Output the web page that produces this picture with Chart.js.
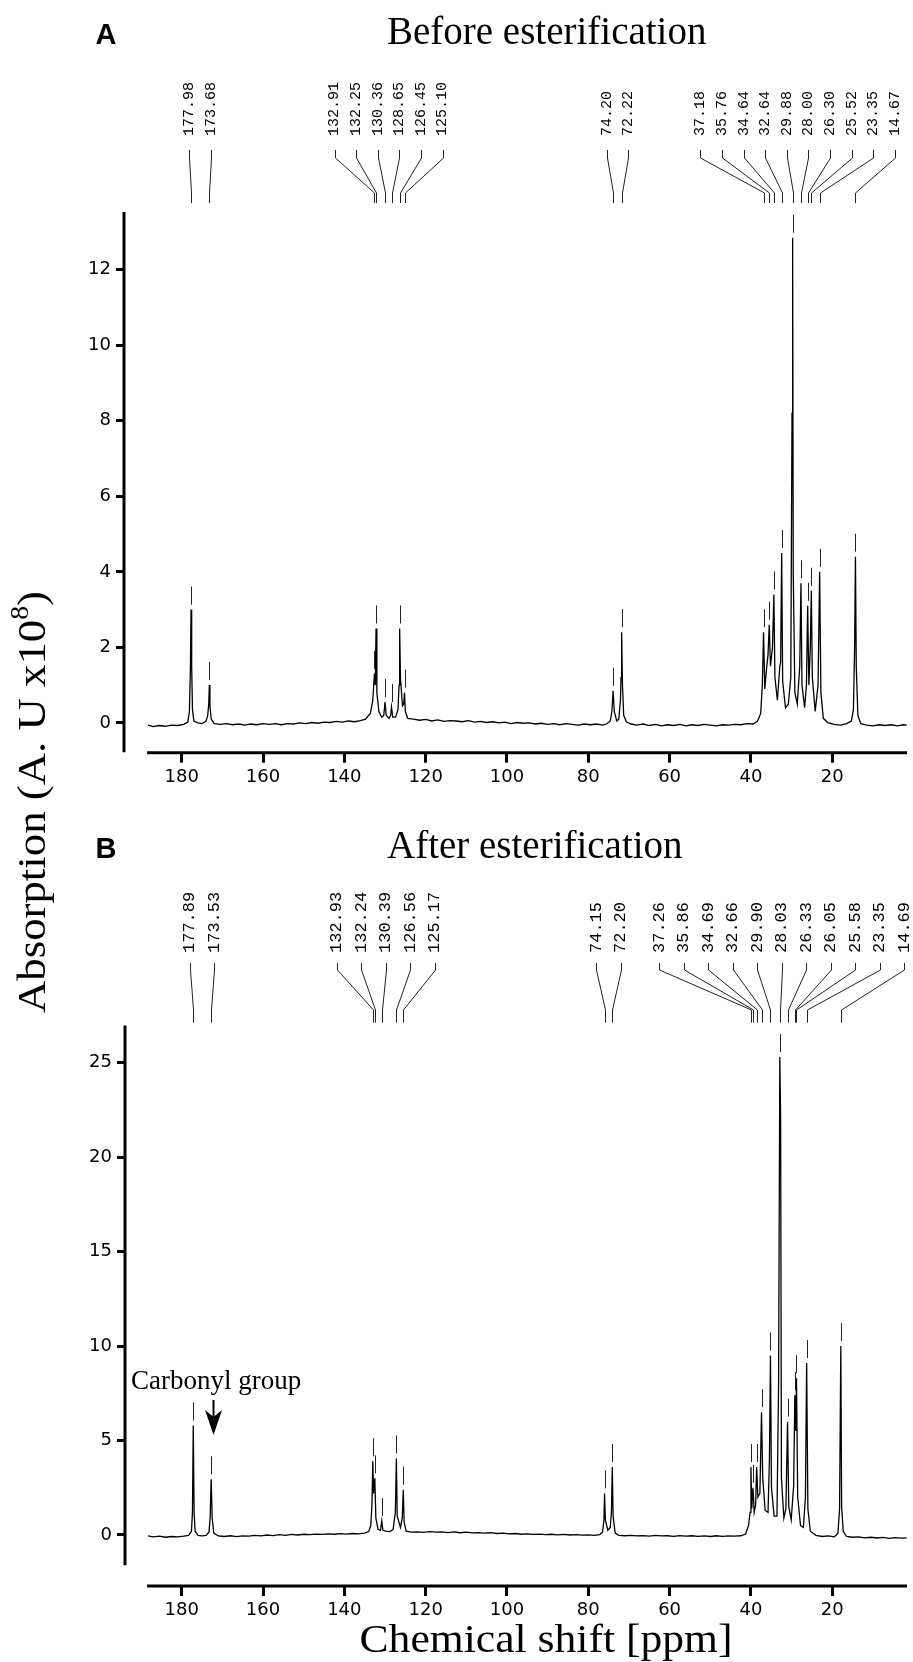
<!DOCTYPE html>
<html>
<head>
<meta charset="utf-8">
<script src="https://cdn.jsdelivr.net/npm/chart.js@4/dist/chart.umd.min.js"></script>
<style>
  body { margin: 0; background: #fff; }
  #wrap { position: relative; width: 913px; height: 1662px; background: #fff; overflow: hidden; }
  canvas { position: absolute; left: 0; }
  #ytitle {
    position: absolute; left: -218px; top: 778px; width: 500px; text-align: center;
    font: 40px 'Liberation Serif', 'Times New Roman', serif; line-height: 48px;
    transform: rotate(-90deg) scaleX(1.12); white-space: nowrap;
  }
  #ytitle sup { font-size: 0.62em; vertical-align: 0.7em; line-height: 0; }
</style>
</head>
<body>
<div id="wrap">
  <canvas id="chartA" width="913" height="830" style="top:0"></canvas>
  <canvas id="chartB" width="913" height="832" style="top:830px"></canvas>
  <div id="ytitle">Absorption (A. U x10<sup>8</sup>)</div>
</div>
<script>
// axis ticks
const xTicks = [180, 160, 140, 120, 100, 80, 60, 40, 20];
const yTicksA = [0, 2, 4, 6, 8, 10, 12];
const yTicksB = [0, 5, 10, 15, 20, 25];

// --- A: before esterification (ppm / absorption) ---
const shiftA = [
  188.3, 187.0, 185.5, 184.0, 182.5, 181.0, 179.5, 178.5,
  178.1, 177.85, 177.7, 177.55, 177.35, 177.0, 176.0, 175.0,
  174.0, 173.6, 173.35, 173.2, 173.05, 172.75, 172.0, 170.5,
  169.0, 167.5, 166.0, 164.5, 163.0, 161.5, 160.0, 158.5,
  157.0, 155.5, 154.0, 152.5, 151.0, 149.5, 148.0, 146.5,
  145.0, 143.5, 142.0, 140.5, 139.0, 137.5, 136.0, 134.8,
  133.6, 133.0, 132.6, 132.4, 132.2, 132.0, 131.5, 130.8,
  130.3, 130.0, 129.7, 129.0, 128.6, 128.4, 128.1, 127.4,
  126.8, 126.55, 126.4, 126.2, 125.7, 125.4, 125.2, 125.0,
  124.4, 123.0, 121.5, 120.0, 118.5, 117.0, 115.5, 114.0,
  112.5, 111.0, 109.5, 108.0, 106.5, 105.0, 103.5, 102.0,
  100.5, 99.0, 97.5, 96.0, 94.5, 93.0, 91.5, 90.0,
  88.5, 87.0, 85.5, 84.0, 82.5, 81.0, 79.5, 78.0,
  76.5, 75.5, 74.6, 74.2, 73.9, 73.6, 73.0, 72.5,
  72.1, 71.95, 71.8, 71.6, 71.3, 70.6, 69.5, 68.0,
  66.5, 65.0, 63.5, 62.0, 60.5, 59.0, 57.5, 56.0,
  54.5, 53.0, 51.5, 50.0, 48.5, 47.0, 45.5, 44.0,
  42.5, 41.0, 39.5, 38.4, 37.6, 37.2, 36.9, 36.6,
  36.1, 35.8, 35.5, 35.2, 34.7, 34.36, 34.1, 33.5,
  32.9, 32.7, 32.44, 32.2, 31.5, 30.8, 30.2, 29.9,
  29.75, 29.6, 29.2, 28.6, 28.0, 27.7, 27.45, 26.8,
  26.35, 26.05, 25.75, 25.4, 25.15, 24.9, 24.2, 23.5,
  23.1, 22.8, 22.2, 21.0, 19.5, 18.0, 16.5, 15.3,
  14.8, 14.5, 14.3, 14.1, 13.7, 13.0, 11.5, 10.0,
  8.5, 7.0, 5.5, 4.0, 2.5, 1.7
];
const absA = [
  -0.06, -0.1, -0.07, -0.09, -0.06, -0.07, -0.04, 0.02,
  0.3, 1.5, 3.0, 1.5, 0.35, 0.05, 0.0, -0.02,
  0.05, 0.2, 0.5, 1.0, 0.45, 0.1, -0.02, -0.04,
  -0.02, -0.05, -0.03, -0.06, -0.03, -0.05, -0.02, -0.04,
  -0.02, -0.05, -0.02, -0.03, 0.0, -0.02, 0.01, -0.01,
  0.02, 0.01, 0.04, 0.02, 0.05, 0.03, 0.06, 0.1,
  0.25, 0.6, 1.3, 1.0, 2.5, 0.8, 0.3, 0.15,
  0.2, 0.55, 0.2, 0.12, 0.2, 0.42, 0.15, 0.15,
  0.35, 1.0, 2.5, 1.2, 0.45, 0.5, 0.8, 0.3,
  0.12, 0.1, 0.07, 0.09, 0.05, 0.08, 0.04, 0.06,
  0.05, 0.03, 0.06, 0.02, 0.04, 0.01, 0.03, 0.0,
  0.02, -0.02, 0.01, -0.01, 0.0, -0.03, -0.01, -0.04,
  -0.02, -0.05, -0.02, -0.04, -0.06, -0.03, -0.05, -0.03,
  -0.06, -0.03, 0.05, 0.3, 0.85, 0.3, 0.05, 0.1,
  0.6, 1.2, 2.4, 1.0, 0.2, 0.02, -0.03, -0.06,
  -0.03, -0.07, -0.04, -0.08, -0.05, -0.07, -0.04, -0.08,
  -0.05, -0.07, -0.04, -0.06, -0.08, -0.05, -0.06, -0.04,
  -0.05, -0.02, -0.03, 0.04, 0.25, 1.0, 2.4, 0.9,
  1.5, 1.8, 2.6, 1.5, 2.0, 3.4, 1.2, 0.6,
  1.5, 1.6, 4.5, 1.1, 0.4, 0.5, 1.2, 8.2,
  12.85, 4.0, 0.8, 0.5, 1.5, 3.7, 1.0, 0.4,
  1.0, 3.1, 1.0, 2.0, 3.5, 1.2, 0.3, 1.0,
  4.0, 0.8, 0.12, 0.0, -0.04, -0.06, -0.02, 0.05,
  0.35, 2.0, 4.4, 1.5, 0.2, -0.02, -0.06, -0.08,
  -0.05, -0.07, -0.05, -0.08, -0.05, -0.06
];
const labelsA = ['177.98', '173.68', '132.91', '132.25', '130.36', '128.65', '126.45', '125.10', '74.20', '72.22',
  '37.18', '35.76', '34.64', '32.64', '29.88', '28.00', '26.30', '25.52', '23.35', '14.67'];
const peakShiftA = [177.7, 173.2, 132.6, 132.2, 130.0, 128.4, 126.4, 125.2, 73.9, 71.8,
  36.9, 35.5, 34.36, 32.44, 29.75, 27.7, 26.05, 25.15, 23.1, 14.3];
const peakTopA = [3.0, 1.0, 1.3, 2.5, 0.55, 0.42, 2.5, 0.8, 0.85, 2.4,
  2.4, 2.6, 3.4, 4.5, 12.85, 3.7, 3.1, 3.5, 4.0, 4.4];

// --- B: after esterification ---
const shiftB = [
  188.3, 187.0, 185.5, 184.0, 182.5, 181.0, 179.5, 178.3,
  177.6, 177.35, 177.15, 176.95, 176.7, 176.0, 175.0, 174.0,
  173.3, 173.0, 172.75, 172.5, 172.1, 171.0, 169.5, 168.0,
  166.5, 165.0, 163.5, 162.0, 160.5, 159.0, 157.5, 156.0,
  154.5, 153.0, 151.5, 150.0, 148.5, 147.0, 145.5, 144.0,
  142.5, 141.0, 139.5, 138.0, 136.5, 135.0, 134.0, 133.5,
  133.2, 133.0, 132.8, 132.5, 132.25, 131.7, 131.1, 130.8,
  130.5, 129.8, 128.8, 128.0, 127.45, 127.2, 127.0, 126.2,
  125.75, 125.5, 125.3, 124.8, 123.5, 122.0, 120.5, 119.0,
  117.5, 116.0, 114.5, 113.0, 111.5, 110.0, 108.5, 107.0,
  105.5, 104.0, 102.5, 101.0, 99.5, 98.0, 96.5, 95.0,
  93.5, 92.0, 90.5, 89.0, 87.5, 86.0, 84.5, 83.0,
  81.5, 80.0, 78.5, 77.2, 76.5, 76.15, 76.0, 75.8,
  75.2, 74.6, 74.3, 74.1, 73.9, 73.4, 72.5, 71.0,
  69.5, 68.0, 66.5, 65.0, 63.5, 62.0, 60.5, 59.0,
  57.5, 56.0, 54.5, 53.0, 51.5, 50.0, 48.5, 47.0,
  45.5, 44.0, 42.5, 41.3, 40.6, 40.2, 40.0, 39.8,
  39.5, 39.2, 38.85, 38.6, 38.3, 37.8, 37.4, 37.1,
  36.5, 35.8, 35.45, 35.2, 34.95, 34.3, 33.6, 33.2,
  32.9, 32.7, 32.5, 31.9, 31.4, 31.0, 30.7, 30.1,
  29.5, 29.2, 29.0, 28.8, 28.5, 27.8, 27.1, 26.6,
  26.3, 26.0, 25.4, 24.0, 22.5, 21.0, 19.5, 18.6,
  18.2, 17.9, 17.7, 17.3, 16.5, 15.0, 13.5, 12.0,
  10.5, 9.0, 7.5, 6.0, 4.5, 3.0, 1.7
];
const absB = [
  -0.05, -0.1, -0.06, -0.12, -0.08, -0.1, -0.06, -0.02,
  0.2, 1.2, 5.8, 1.2, 0.2, -0.02, -0.05, -0.02,
  0.15, 0.9, 2.95, 0.9, 0.1, -0.05, -0.08, -0.04,
  -0.09, -0.05, -0.06, -0.02, -0.05, 0.0, -0.03, 0.02,
  -0.02, 0.03, 0.0, 0.04, 0.02, 0.05, 0.03, 0.06,
  0.04, 0.07, 0.05, 0.08, 0.06, 0.1, 0.18, 0.5,
  1.6, 3.9, 2.2, 3.0, 0.9, 0.3, 0.25, 0.74,
  0.25, 0.2, 0.18, 0.3, 1.2, 4.05, 1.0, 0.4,
  0.9, 2.4, 0.7, 0.2, 0.15, 0.17, 0.14, 0.18,
  0.15, 0.17, 0.13, 0.16, 0.12, 0.15, 0.11, 0.13,
  0.1, 0.12, 0.08, 0.1, 0.06, 0.08, 0.04, 0.06,
  0.03, 0.05, 0.02, 0.04, 0.01, 0.03, 0.0, 0.02,
  -0.01, 0.01, -0.02, 0.02, 0.15, 0.8, 2.2, 0.8,
  0.25, 0.4, 1.3, 3.6, 1.0, 0.1, -0.02, -0.04,
  -0.02, -0.05, -0.03, -0.06, -0.02, -0.05, -0.04, -0.07,
  -0.03, -0.06, -0.04, -0.07, -0.05, -0.08, -0.04, -0.07,
  -0.05, -0.06, -0.04, 0.05, 0.5, 1.2, 3.6, 1.4,
  2.5, 1.2, 1.6, 3.6, 2.0, 2.2, 6.5, 3.0,
  1.3, 1.2, 4.0, 9.5, 2.5, 1.0, 1.0, 8.0,
  25.3, 22.0, 3.0, 0.9, 1.4, 6.0, 1.5, 0.8,
  2.6, 7.4, 5.5, 8.3, 2.0, 0.5, 0.4, 2.0,
  9.1, 1.4, 0.2, -0.02, -0.08, -0.05, -0.1, 0.1,
  1.4, 10.0, 1.5, 0.2, -0.08, -0.12, -0.1, -0.15,
  -0.12, -0.16, -0.13, -0.18, -0.14, -0.17, -0.15
];
const labelsB = ['177.89', '173.53', '132.93', '132.24', '130.39', '126.56', '125.17', '74.15', '72.20',
  '37.26', '35.86', '34.69', '32.66', '29.90', '28.03', '26.33', '26.05', '25.58', '23.35', '14.69'];
const peakShiftB = [177.15, 172.75, 133.0, 132.5, 130.8, 127.2, 125.5, 76.0, 74.1,
  40.0, 39.5, 38.6, 37.4, 35.2, 32.9, 31.0, 29.2, 28.8, 26.3, 17.9];
const peakTopB = [5.8, 2.95, 3.9, 3.0, 0.74, 4.05, 2.4, 2.2, 3.6,
  3.6, 2.5, 3.6, 6.5, 9.5, 25.3, 6.0, 7.4, 8.3, 9.1, 10.0];

// spread crowded peak labels evenly around the mean of their peaks
function spread(px, gap) {
  let groups = px.map((p, i) => ({ idx: [i], c: p }));
  let again = true;
  while (again) {
    again = false;
    for (let g = 0; g < groups.length - 1; g++) {
      const a = groups[g], b = groups[g + 1];
      const aEnd = a.c + (a.idx.length - 1) * gap / 2;
      const bStart = b.c - (b.idx.length - 1) * gap / 2;
      if (bStart - aEnd < gap) {
        const idx = a.idx.concat(b.idx);
        const c = idx.reduce((s, i) => s + px[i], 0) / idx.length;
        groups.splice(g, 2, { idx, c });
        again = true;
        break;
      }
    }
  }
  const out = [];
  groups.forEach(g => g.idx.forEach((i, k) => { out[i] = g.c + (k - (g.idx.length - 1) / 2) * gap; }));
  return out;
}

// axis lines, peak marks, peak labels, titles
const nmrDecor = {
  id: 'nmrDecor',
  afterDraw(chart, args, o) {
    const { ctx, chartArea: ca, scales: { x, y } } = chart;
    ctx.save();
    ctx.strokeStyle = '#000';
    ctx.lineWidth = 3;
    ctx.beginPath();
    ctx.moveTo(ca.left, ca.top);
    ctx.lineTo(ca.left, y.getPixelForValue(o.yAxisEnd));
    ctx.moveTo(x.getPixelForValue(o.xAxisStart), ca.bottom);
    ctx.lineTo(ca.right, ca.bottom);
    ctx.stroke();

    // little marks above picked peaks
    ctx.lineWidth = 1;
    ctx.strokeStyle = '#222';
    ctx.beginPath();
    o.pos.forEach((p, i) => {
      const px = Math.round(x.getPixelForValue(p)) + 0.5;
      const py = y.getPixelForValue(o.top[i]) - o.markGap;
      ctx.moveTo(px, py);
      ctx.lineTo(px, py - o.markLen);
    });
    ctx.stroke();

    // connectors + labels
    const peakPx = o.pos.map(p => x.getPixelForValue(p));
    const labPx = spread(peakPx, o.labelGap);
    ctx.beginPath();
    peakPx.forEach((px, i) => {
      const lx = Math.round(labPx[i]) + 0.5, bx = Math.round(px) + 0.5;
      ctx.moveTo(lx, o.conn[0]);
      ctx.lineTo(lx, o.conn[1]);
      ctx.lineTo(bx, o.conn[2]);
      ctx.lineTo(bx, o.conn[3]);
    });
    ctx.stroke();
    ctx.fillStyle = '#000';
    ctx.font = o.labelFont;
    ctx.textAlign = 'left';
    ctx.textBaseline = 'middle';
    o.labels.forEach((t, i) => {
      ctx.save();
      ctx.translate(labPx[i], o.labelBase);
      ctx.rotate(-Math.PI / 2);
      ctx.fillText(t, 0, 0);
      ctx.restore();
    });

    // panel letter + title
    ctx.textBaseline = 'alphabetic';
    ctx.textAlign = 'center';
    ctx.font = "bold 29px 'Liberation Sans', Arial, sans-serif";
    ctx.fillText(o.letter, 106, o.titleBase);
    ctx.textAlign = 'left';
    ctx.font = "39px 'Liberation Serif', 'Times New Roman', serif";
    ctx.fillText(o.title, 387, o.titleBase);

    if (o.extra) o.extra(ctx);
    ctx.restore();
  }
};

function makeChart(id, xs, ys, yTicks, cfg) {
  return new Chart(document.getElementById(id), {
    type: 'line',
    data: {
      datasets: [{
        data: xs.map((v, i) => ({ x: v, y: ys[i] })),
        borderColor: '#000',
        borderWidth: 1.3,
        pointRadius: 0,
        tension: 0,
        fill: false
      }]
    },
    options: {
      responsive: false,
      animation: false,
      layout: { padding: { top: cfg.top, right: 6, left: 0, bottom: 0 } },
      plugins: { legend: { display: false }, tooltip: { enabled: false }, nmrDecor: cfg.decor },
      scales: {
        x: {
          type: 'linear', reverse: true, min: cfg.xMin, max: cfg.xMax,
          afterFit: s => { s.height = cfg.xHeight; },
          afterBuildTicks: s => { s.ticks = xTicks.map(v => ({ value: v })); },
          border: { display: false },
          grid: { drawOnChartArea: false, drawTicks: true, tickLength: 10, tickWidth: 3, tickColor: '#000' },
          ticks: { color: '#000', font: { family: "'DejaVu Sans', sans-serif", size: 18 }, padding: 4, maxRotation: 0 }
        },
        y: {
          min: cfg.yMin, max: cfg.yMax,
          afterFit: s => { s.width = cfg.yWidth; },
          afterBuildTicks: s => { s.ticks = yTicks.map(v => ({ value: v })); },
          border: { display: false },
          grid: { drawOnChartArea: false, drawTicks: true, tickLength: 8, tickWidth: 3, tickColor: '#000' },
          ticks: { color: '#000', font: { family: "'DejaVu Sans', sans-serif", size: 18 }, padding: 5 }
        }
      }
    },
    plugins: [nmrDecor]
  });
}

makeChart('chartA', shiftA, absA, yTicksA, {
  top: 212, xHeight: 77.3, yWidth: 124,
  xMin: 1.62, xMax: 194.19, yMin: -0.79, yMax: 13.53,
  decor: {
    letter: 'A', title: 'Before esterification', titleBase: 44,
    yAxisEnd: -0.78, xAxisStart: 188.5,
    pos: peakShiftA, top: peakTopA, labels: labelsA,
    markGap: 5, markLen: 18,
    labelGap: 21.6, labelBase: 136, labelFont: "15px 'Liberation Mono', 'Courier New', monospace",
    conn: [150, 158, 193, 203]
  }
});

makeChart('chartB', shiftB, absB, yTicksB, {
  top: 195.5, xHeight: 76, yWidth: 125,
  xMin: 1.62, xMax: 193.94, yMin: -2.70, yMax: 26.97,
  decor: {
    letter: 'B', title: 'After esterification', titleBase: 28,
    yAxisEnd: -1.6, xAxisStart: 188.5,
    pos: peakShiftB, top: peakTopB, labels: labelsB,
    markGap: 5, markLen: 18,
    labelGap: 24.5, labelBase: 123, labelFont: "17px 'Liberation Mono', 'Courier New', monospace",
    conn: [133, 140, 180, 192.7],
    extra: ctx => {
      // annotation arrow
      ctx.font = "27px 'Liberation Serif', 'Times New Roman', serif";
      ctx.fillText('Carbonyl group', 131, 559);
      ctx.strokeStyle = '#000';
      ctx.lineWidth = 2;
      ctx.beginPath();
      ctx.moveTo(213.5, 570);
      ctx.lineTo(213.5, 592);
      ctx.stroke();
      ctx.beginPath();
      ctx.moveTo(213.5, 605);
      ctx.lineTo(205, 580);
      ctx.lineTo(213.5, 587);
      ctx.lineTo(222, 580);
      ctx.closePath();
      ctx.fill();
      // x axis title
      ctx.save();
      ctx.translate(546, 822);
      ctx.scale(1.09, 1);
      ctx.textAlign = 'center';
      ctx.font = "40px 'Liberation Serif', 'Times New Roman', serif";
      ctx.fillText('Chemical shift [ppm]', 0, 0);
      ctx.restore();
    }
  }
});
</script>
</body>
</html>
